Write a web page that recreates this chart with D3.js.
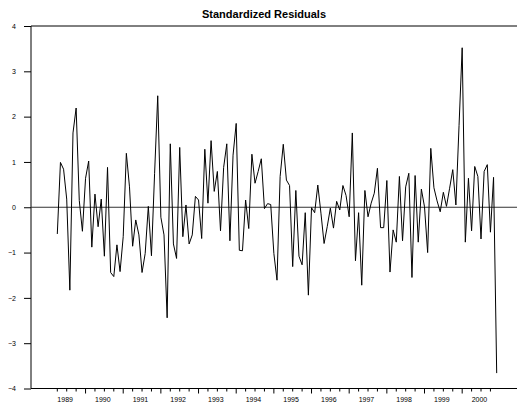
<!DOCTYPE html>
<html>
<head>
<meta charset="utf-8">
<script src="https://cdn.jsdelivr.net/npm/d3@7"></script>
<style>
  html, body { margin: 0; padding: 0; background: #fff; }
  svg { display: block; font-family: "Liberation Sans", Arial, sans-serif; }
</style>
</head>
<body>
<svg id="chart" width="517" height="410"></svg>
<script>
// Month index: 0 = Jan 1989. Data runs from Apr 1989 (3) to Dec 2000 (143).
const startMonth = 3;
const residuals = [
  -0.59, 0.99, 0.84, 0.18, -1.83, 1.64, 2.19, 0.15, -0.53,
  0.64, 1.02, -0.88, 0.29, -0.43, 0.18, -1.08, 0.88, -1.44, -1.53, -0.83, -1.42,
  -0.65, 1.19, 0.45, -0.86, -0.28, -0.61, -1.44, -1.02, 0.02, -1.07, 0.75, 2.46,
  -0.22, -0.61, -2.44, 1.40, -0.81, -1.13, 1.32, -0.65, 0.05, -0.81, -0.61, 0.24,
  0.16, -0.69, 1.28, 0.09, 1.47, 0.35, 0.79, -0.52, 0.88, 1.40, -0.74, 1.15,
  1.85, -0.95, -0.96, 0.16, -0.47, 1.17, 0.53, 0.79, 1.07, -0.03, 0.08, 0.06,
  -1.02, -1.61, 0.68, 1.39, 0.60, 0.48, -1.31, 0.37, -1.08, -1.27, -0.12, -1.94,
  -0.01, -0.12, 0.49, -0.13, -0.80, -0.43, -0.02, -0.46, 0.13, -0.06, 0.48, 0.26,
  -0.21, 1.64, -1.18, -0.12, -1.72, 0.37, -0.21, 0.09, 0.31, 0.86, -0.45, -0.45,
  0.59, -1.43, -0.50, -0.77, 0.68, -0.74, 0.45, 0.75, -1.55, 0.70, -0.77, 0.40,
  0.01, -1.00, 1.30, 0.43, 0.14, -0.10, 0.33, 0.02, 0.42, 0.83, 0.05, 1.80,
  3.52, -0.77, 0.64, -0.52, 0.90, 0.68, -0.70, 0.79, 0.94, -0.55, 0.66, -3.66
];
const years = [1989, 1990, 1991, 1992, 1993, 1994, 1995, 1996, 1997, 1998, 1999, 2000];
const yTicks = [-4, -3, -2, -1, 0, 1, 2, 3, 4];
const titleText = "Standardized Residuals";

const svg = d3.select("#chart");
const W = 517;
const plotLeft = 31, plotTop = 26, plotBottom = 388.5;

const endMonth = startMonth + residuals.length - 1;
const x = d3.scaleLinear().domain([startMonth, endMonth]).range([57.3, 496.7]);
const y = d3.scaleLinear().domain([-4, 4]).range([plotBottom, plotTop]);

// Title
svg.append("text")
  .attr("x", 264).attr("y", 17.5)
  .attr("text-anchor", "middle")
  .attr("font-size", "11px").attr("font-weight", "bold")
  .attr("fill", "#000")
  .text(titleText);

// Frame: top line, bottom line, left spine
svg.append("line").attr("x1", plotLeft).attr("x2", W).attr("y1", plotTop).attr("y2", plotTop)
  .attr("stroke", "#000").attr("stroke-width", 1);
svg.append("line").attr("x1", plotLeft).attr("x2", W).attr("y1", plotBottom).attr("y2", plotBottom)
  .attr("stroke", "#000").attr("stroke-width", 1);
svg.append("line").attr("x1", plotLeft).attr("x2", plotLeft).attr("y1", plotTop).attr("y2", plotBottom)
  .attr("stroke", "#000").attr("stroke-width", 1);

// Y axis
const yAxis = d3.axisLeft(y).tickValues(yTicks).tickSize(7).tickPadding(8)
  .tickFormat(d3.format("d"));
const gy = svg.append("g").attr("transform", `translate(${plotLeft},0)`).call(yAxis);
gy.select(".domain").remove();
gy.selectAll("text").attr("font-size", "7px").attr("fill", "#000")
  .attr("font-family", "'Liberation Sans', Arial, sans-serif");
gy.selectAll("line").attr("stroke", "#000");

// X axis: quarterly ticks, longer at year starts
const quarterTicks = d3.range(startMonth, endMonth + 1).filter(m => m % 3 === 0);
const gx = svg.append("g");
gx.selectAll("line.q").data(quarterTicks).join("line")
  .attr("class", "q")
  .attr("x1", d => x(d)).attr("x2", d => x(d))
  .attr("y1", plotBottom).attr("y2", d => plotBottom + (d % 12 === 0 ? 5 : 3))
  .attr("stroke", "#000").attr("stroke-width", 1);
gx.selectAll("text").data(years).join("text")
  .attr("x", d => x((d - 1989) * 12 + 5.5))
  .attr("y", 402)
  .attr("text-anchor", "middle")
  .attr("font-size", "7px")
  .attr("fill", "#000")
  .text(d => d);

// Zero line
svg.append("line").attr("x1", plotLeft).attr("x2", W).attr("y1", y(0)).attr("y2", y(0))
  .attr("stroke", "#333").attr("stroke-width", 1);

// Residual series
const line = d3.line()
  .x((d, i) => x(startMonth + i))
  .y(d => y(d));
svg.append("path")
  .datum(residuals)
  .attr("d", line)
  .attr("fill", "none")
  .attr("stroke", "#000")
  .attr("stroke-width", 1);
</script>
</body>
</html>
